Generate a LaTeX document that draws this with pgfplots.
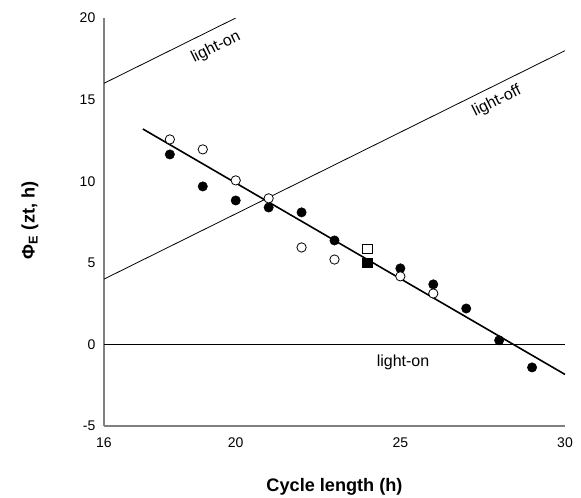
\documentclass[border=0pt]{standalone}
\usepackage{fontspec}
\setmainfont{Liberation Sans}
\usepackage{pgfplots}
\pgfplotsset{compat=1.18}
\usepackage{pgfplotstable}

% filled circles (closed symbols)
\pgfplotstableread{
x y
18 11.64
19 9.68
20 8.82
21 8.39
22 8.09
23 6.37
25 4.66
26 3.68
27 2.20
28 0.25
29 -1.41
}\filled
% open circles
\pgfplotstableread{
x y
18 12.56
19 11.95
20 10.05
21 8.95
22 5.94
23 5.20
25 4.17
26 3.12
}\open

\begin{document}
\begin{tikzpicture}
\begin{axis}[
  at={(0,0)}, anchor=south west,
  width=345.75pt, height=306pt, scale only axis,
  xmin=16, xmax=30, ymin=-5, ymax=20,
  axis lines*=left,
  axis line style={draw=black!50, line width=1.1pt},
  xtick={16,20,25,30},
  ytick={-5,0,5,10,15,20},
  major tick length=0pt,
  /pgf/number format/assume math mode=true,
  tick label style={font=\fontsize{10.5}{12}\selectfont},
  xticklabel style={yshift=-5pt},
  yticklabel style={xshift=-3pt},
  xlabel={\textbf{Cycle length (h)}},
  ylabel={\textbf{Φ\textsubscript{E} (zt, h)}},
  label style={font=\fontsize{13.6}{15}\selectfont},
  xlabel style={at={(axis description cs:0.5,-0.1495)}, anchor=center},
  ylabel style={at={(axis description cs:-0.1605,0.504)}, anchor=center},
  clip=true,
]
% reference lines
\addplot[black, line width=0.6pt] coordinates {(16,16) (20,20)};
\addplot[black, line width=0.6pt] coordinates {(16,4) (30,18)};
\addplot[black, line width=0.6pt] coordinates {(16,0) (30,0)};
% regression line
\addplot[black, line width=1.2pt] coordinates {(17.18,13.2) (30,-1.84)};
% data
\addplot[only marks, mark=*, mark size=3.5pt, mark options={fill=black, draw=black}] table {\filled};
\addplot[only marks, mark=*, mark size=3.5pt, mark options={fill=white, draw=black, line width=0.6pt}] table {\open};
\addplot[only marks, mark=square*, mark size=3.6pt, mark options={fill=black, draw=black}] coordinates {(24,5.0)};
\addplot[only marks, mark=square*, mark size=3.4pt, mark options={fill=white, draw=black, line width=0.6pt}] coordinates {(24,5.88)};
% labels
\node[rotate=26.4, font=\fontsize{12}{14}\selectfont] at (axis cs:19.4,18.2) {light-on};
\node[rotate=26.4, font=\fontsize{12}{14}\selectfont] at (axis cs:27.93,14.9) {light-off};
\node[font=\fontsize{12}{14}\selectfont] at (axis cs:25.08,-1.1) {light-on};
\end{axis}
\pgfresetboundingbox
\path[use as bounding box] (-78pt,-53.25pt) rectangle (357.75pt,319.5pt);
\end{tikzpicture}
\end{document}
